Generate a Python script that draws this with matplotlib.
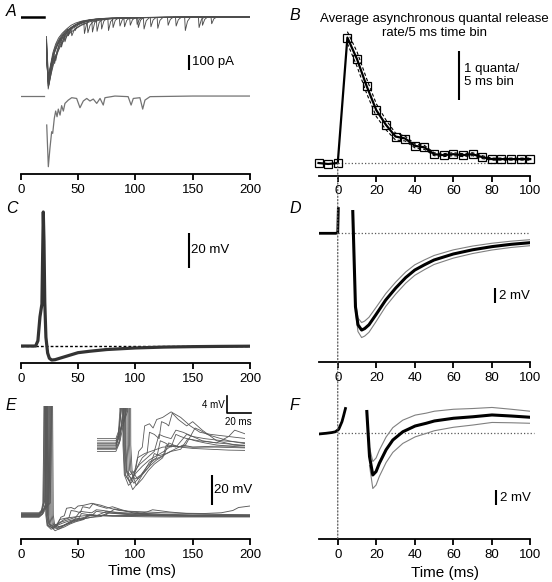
import matplotlib
matplotlib.use("Agg")
import matplotlib.pyplot as plt
from matplotlib.patches import ConnectionPatch

plt.rcParams["font.family"] = ["Liberation Sans", "DejaVu Sans"]

W, H = 552, 582

# ---------------------------------------------------------------------------
# Data
# ---------------------------------------------------------------------------
# A: EPSCs (pA) vs time (ms). Overlaid sweeps (top) + one example sweep (bottom)
A_PRE_T = [0, 20]
A_PRE_I = [0, 0]
A_SWEEPS = [
    [(22.5, -150), (24, -480), (25.5, -380), (27, -330), (29, -260), (29.6, -310), (31.5, -230),
     (34, -170), (37, -130), (40, -100), (44, -70), (48, -50), (52, -32), (55, -26), (55.6, -110),
     (57.5, -45), (60, -22), (65, -15), (75, -8), (86, -5), (86.6, -60), (88.5, -20), (91, -5),
     (110, -3), (140, 0), (200, 0)],
    [(22.5, -250), (24.2, -470), (26, -400), (28, -310), (30, -250), (30.6, -290), (33, -200),
     (36, -150), (39, -120), (42, -90), (46, -60), (50, -45), (54, -30), (60, -20), (66, -15),
     (66.6, -95), (68.5, -35), (71, -18), (80, -8), (107, -5), (107.6, -80), (109.5, -25),
     (112, -5), (130, -2), (200, 0)],
    [(22.5, -180), (23.8, -430), (25.5, -350), (27.5, -280), (30, -220), (33, -170), (35, -140),
     (35.6, -200), (37.5, -140), (40, -105), (42, -90), (46, -65), (50, -45), (55, -30), (60, -20),
     (70, -10), (80, -8), (80.6, -70), (82.5, -22), (85, -8), (100, -5), (119, -3), (119.6, -75),
     (121.5, -22), (124, -3), (150, 0), (200, 0)],
    [(22.5, -300), (24.5, -450), (26.5, -360), (29, -290), (32, -230), (35, -180), (38, -140),
     (41, -110), (44, -88), (44.6, -125), (46.5, -90), (49, -72), (52, -55), (57, -40), (62, -28),
     (70, -15), (76, -10), (76.6, -90), (78.5, -30), (81, -10), (100, -4), (143, -2),
     (143.6, -90), (145.5, -28), (148, -2), (200, 0)],
    [(22.5, -200), (24, -420), (26, -330), (28, -260), (31, -200), (34, -150), (38, -110),
     (42, -80), (47, -55), (52, -40), (58, -25), (62, -20), (62.6, -100), (64.5, -38), (67, -18),
     (75, -10), (95, -5), (95.6, -55), (97.5, -18), (100, -5), (135, -2), (135.6, -60),
     (137.5, -18), (140, -2), (158, 0), (158.6, -55), (160.5, -16), (163, 0), (200, 0)],
    [(22.5, -160), (24.3, -400), (26, -320), (28, -240), (30.5, -180), (33, -140), (36, -110),
     (40, -80), (44, -55), (48, -40), (53, -28), (60, -18), (70, -10), (70.6, -80), (72.5, -28),
     (75, -10), (90, -5), (102, -3), (102.6, -70), (104.5, -22), (107, -3), (155, 0),
     (155.6, -70), (157.5, -20), (160, 0), (200, 0)],
    [(22.5, -220), (24, -460), (25.8, -370), (27.5, -300), (29.5, -240), (32, -190), (35, -150),
     (38, -118), (38.6, -165), (40.5, -120), (43, -95), (46, -72), (51, -48), (56, -32), (62, -22),
     (70, -14), (85, -8), (113, -3), (113.6, -65), (115.5, -20), (118, -3), (140, 0), (200, 0)],
    [(22.5, -130), (24.1, -440), (25.7, -360), (27.5, -290), (29.5, -230), (32, -180), (35, -140),
     (39, -100), (43, -75), (47, -58), (47.6, -90), (49.5, -55), (52, -45), (58, -30), (65, -18),
     (75, -10), (90, -6), (90.6, -65), (92.5, -22), (95, -6), (125, -2), (150, 0), (200, 0)],
    [(22.5, -270), (24.4, -455), (26.2, -390), (28.5, -320), (31, -260), (34, -205), (37, -165),
     (40, -130), (44, -100), (48, -78), (53, -55), (58, -40), (58.6, -105), (60.5, -55), (63, -32),
     (70, -20), (80, -12), (101, -6), (101.6, -50), (103.5, -15), (106, -4), (128, -2),
     (128.6, -55), (130.5, -16), (133, -1), (200, 0)],
    [(22.5, -190), (24, -445), (25.6, -355), (27.3, -285), (29.2, -220), (31.5, -175),
     (34.5, -135), (38, -100), (41, -80), (41.6, -125), (43.5, -80), (46, -62), (50, -45),
     (54, -34), (60, -22), (68, -14), (84, -7), (110, -3), (125, -2), (150, 0), (166, 0),
     (166.6, -45), (168.5, -12), (171, 0), (200, 0)],
]
A_SINGLE_OFFSET = -527
A_SINGLE = [
    (0.3, 0), (20.6, 0), (22.7, -193), (24.1, -471), (25.5, -349), (27, -238), (27.9, -249),
    (29.3, -149), (30.5, -100), (31.7, -138), (32.8, -87), (34.3, -127), (35.7, -64), (37.2, -100),
    (38.6, -49), (41.5, -27), (44.5, -11), (48.8, -16), (51.7, -78), (54.6, -33), (57.6, -16),
    (60.4, -33), (63.3, -20), (66.3, -49), (69.2, -16), (72, -60), (73.5, -11), (82.2, 0),
    (93.7, -4), (96.3, -60), (98.2, -16), (104, -11), (106.4, -87), (108.4, -27), (112.8, -4),
    (150, 0), (200, 0),
]

# B: average asynchronous quantal release rate (quanta / 5 ms bin)
B_T = [-10, -5, 0, 5, 10, 15, 20, 25, 30, 35, 40, 45, 50, 55, 60, 65, 70, 75, 80, 85, 90, 95, 100]
B_RATE = [0.0, -0.02, 0.0, 2.56, 2.12, 1.57, 1.08, 0.78, 0.54, 0.50, 0.35, 0.32, 0.18, 0.16,
          0.18, 0.16, 0.18, 0.12, 0.08, 0.08, 0.08, 0.08, 0.08]
B_SEM = [0, 0, 0, 0.12, 0.15, 0.15, 0.13, 0.10, 0.07, 0.05, 0.04, 0.04, 0.03, 0.03, 0.03,
         0.03, 0.03, 0.03, 0.02, 0.02, 0.02, 0.02, 0.02]

# C: action potential (mV, relative to baseline)
C_T = [0, 13, 15, 16.8, 18.5, 19.2, 19.7, 20.3, 21, 22, 23.5, 25, 27, 30, 35, 40, 50, 60,
       75, 100, 125, 150, 175, 200]
C_V = [0, 0, 3, 16.7, 24, 55, 76.6, 60, 25, 5, -4, -7, -8, -7.8, -6.8, -5.8, -3.8, -3.0,
       -2.0, -1.1, -0.6, -0.35, -0.2, -0.1]

# D: averaged AHP (mean +/- SEM, mV)
D_PRE_T = [-10, -5, -1, 0, 0.3]
D_PRE_V = [0, 0, 0, 0.1, 3.3]
D_T = [7.8, 9.2, 10.5, 12.4, 14, 16.2, 19.7, 24.9, 30.1, 35.3, 40, 45, 50, 60, 70, 80, 90, 100]
D_V = [2.9, -9.8, -12.2, -12.9, -12.7, -12.2, -10.9, -8.9, -7.3, -5.9, -4.9, -4.2, -3.56,
       -2.76, -2.2, -1.78, -1.47, -1.25]
D_SEM = [0, 0.6, 0.9, 1.0, 1.0, 1.0, 0.95, 0.85, 0.8, 0.75, 0.7, 0.65, 0.6, 0.55, 0.5, 0.45,
         0.42, 0.4]

# E: overlaid current-clamp sweeps (mV)
E_SWEEPS = [
    [(0, 0.5), (16, 0.5), (18, 2.5), (19.3, 8), (19.9, 40), (20.5, 95), (21.1, 95), (21.9, 0),
     (23, -7), (26.5, -9.5), (30, -8.5), (33, -5), (35, -1.5), (38, -0.5), (40, 4.5), (44, 5),
     (47, 4), (50, 6), (55, 6.5), (62, 7.8), (70, 6.5), (78, 4.5), (86, 3), (95, 2.5), (110, 2),
     (125, 1.5), (140, 1.2), (160, 1), (175, 1.5), (185, 3), (190, 5), (200, 6)],
    [(0, -0.5), (16, -0.5), (18, 1.5), (19.8, 7), (20.4, 40), (21, 95), (21.6, 95), (22.4, 0),
     (23.5, -7), (27.5, -8.5), (31, -7), (35, -4.5), (38, -3), (42, -2), (44, 3), (48, 2.5),
     (52, 1.5), (54, 5.5), (58, 5), (60, 4.5), (63, 7.5), (68, 6), (75, 4.5), (80, 5.5), (88, 3.5),
     (100, 1), (115, 0), (140, -0.5), (200, -0.5)],
    [(0, 1.5), (16, 1.5), (18.5, 3.5), (20.8, 9), (21.4, 40), (22, 95), (22.6, 95), (23.4, 0),
     (24.5, -6), (28, -7), (32, -6), (36, -4.5), (42, -3), (48, -1.5), (52, 2.5), (56, 2),
     (62, 1.5), (66, 3.5), (72, 3), (80, 2), (90, 1.5), (105, 1), (125, 0.5), (150, 0), (200, 0)],
    [(0, -1.5), (16, -1.5), (19, 0.5), (21.8, 7), (22.4, 40), (23, 95), (23.6, 95), (24.4, 0),
     (25.5, -7), (30, -10.5), (34, -9), (38, -7), (44, -5), (50, -3.5), (56, -2.5), (60, 0.5),
     (64, 0), (70, -0.5), (80, -0.8), (95, -1), (110, -1.2), (130, -1.3), (200, -1.3)],
    [(0, 0), (16, 0), (19, 2), (22.8, 8), (23.4, 40), (24, 95), (24.6, 95), (25.4, 0),
     (26.5, -7), (31, -9), (36, -7.5), (40, -6), (44, -4), (47, -3.5), (50, -3), (53, 1),
     (57, 0.5), (60, 0), (66, -0.5), (75, 2.5), (80, 2), (88, 1), (100, 0.5), (120, 0),
     (150, -0.5), (200, -0.5)],
    [(0, -1), (16, -1), (19.5, 1), (23.8, 7), (24.4, 40), (25, 95), (25.6, 95), (26.4, 0),
     (27.5, -6), (32, -8), (37, -7), (42, -5), (48, -3.5), (55, -2.5), (62, -1.5), (70, -1),
     (76, 1.5), (82, 1), (90, 0.5), (100, 0), (120, -0.5), (150, -0.8), (200, -1)],
    [(0, 1), (16, 1), (19, 3), (24.8, 8), (25.4, 40), (26, 95), (26.6, 95), (27.4, 0),
     (28.5, -6), (33, -9.5), (38, -8), (43, -6), (48, -4.5), (55, -3), (58, 0), (62, -0.5),
     (66, 2.5), (70, 2), (75, 1.5), (85, 1), (100, 0.5), (110, 2), (115, 3.5), (120, 3),
     (130, 2), (145, 1), (170, 0.5), (200, 0)],
    [(0, -0.2), (16, -0.2), (18.2, 2), (20.3, 8), (20.9, 40), (21.5, 95), (22.1, 95), (22.9, 0),
     (24, -7), (28, -9), (31, -7), (34, -3), (37, -2.5), (40, -2), (45, -1.5), (50, -1),
     (55, -0.5), (65, -0.3), (80, -0.5), (100, -0.5), (140, -0.8), (200, -0.8)],
    [(0, 0.3), (16, 0.3), (19, 2.5), (25.8, 8), (26.4, 40), (27, 95), (27.6, 95), (28.4, 0),
     (29.5, -6), (34, -8), (39, -6.5), (44, -5), (48, -2), (52, -2.5), (58, -2), (65, -1),
     (72, 0), (80, -0.5), (95, -0.3), (120, -0.2), (160, 0), (200, 0)],
    [(0, -0.8), (16, -0.8), (18.8, 1), (21.3, 7), (21.9, 40), (22.5, 95), (23.1, 95), (23.9, 0),
     (25, -6.5), (29, -8), (33, -6.5), (38, -5), (44, -3.5), (50, -2.5), (56, -1.5), (63, 0),
     (68, -0.5), (74, 0), (82, 4), (86, 3.5), (92, 2.5), (100, 1.8), (110, 1), (130, 0),
     (160, -0.5), (200, -0.5)],
]

# F: averaged response (mean +/- SEM, mV)
F_PRE_T = [-10, -6, -3, -1.2, 0.5, 2.2, 3, 4]
F_PRE_V = [-0.1, 0.0, 0.1, 0.2, 0.53, 1.55, 2.3, 3.3]
F_T = [15.1, 16.5, 18.2, 19.9, 21.6, 25.1, 28.6, 33.8, 40.2, 45.9, 50.2, 60.1, 70.2, 80.1,
       90.1, 100.2]
F_V = [2.9, -3.1, -5.56, -5.1, -4.0, -2.2, -0.9, 0.2, 0.97, 1.33, 1.64, 2.0, 2.2, 2.44, 2.3, 2.13]
F_SEM = [0, 1.2, 1.8, 1.8, 1.75, 1.7, 1.65, 1.55, 1.45, 1.35, 1.3, 1.2, 1.1, 1.0, 0.9, 0.8]

# ---------------------------------------------------------------------------
# Layout helpers
# ---------------------------------------------------------------------------
fig = plt.figure(figsize=(W / 100, H / 100), dpi=100)
TICK_FS = 9.5
LABEL_FS = 9.5


def px_axes(left, top, right, bottom):
    return fig.add_axes([left / W, 1 - bottom / H, (right - left) / W, (bottom - top) / H])


def style(ax, xlim, ylim, ticks):
    ax.set_xlim(*xlim)
    ax.set_ylim(*ylim)
    for s in ("top", "right", "left"):
        ax.spines[s].set_visible(False)
    ax.spines["bottom"].set_linewidth(1.3)
    ax.set_yticks([])
    ax.set_xticks(ticks)
    ax.tick_params(axis="x", direction="out", length=4, width=1.3, labelsize=TICK_FS, pad=3)
    ax.patch.set_visible(False)


def scalebar(ax, x, y0, y1, label, dx, fs=LABEL_FS):
    ax.plot([x, x], [y0, y1], color="black", lw=1.5, solid_capstyle="butt", clip_on=False)
    ax.text(x + dx, (y0 + y1) / 2, label, fontsize=fs, va="center", ha="left")


def unzip(pts):
    return [p[0] for p in pts], [p[1] for p in pts]


def letter(x, y, s):
    fig.text(x / W, 1 - y / H, s, fontsize=11.5, style="italic", va="center", ha="left")


# ---------------------------------------------------------------------------
# A
# ---------------------------------------------------------------------------
axA = px_axes(20.7, 5, 250, 174)
style(axA, (0, 200), (-1046.7, 80), [0, 50, 100, 150, 200])
for sw in A_SWEEPS:
    t, i = unzip(sw)
    axA.plot(t, i, color="0.3", lw=0.65)
axA.plot(A_PRE_T, A_PRE_I, color="black", lw=1.8)
t, i = unzip(A_SINGLE)
axA.plot(t[:2], [v + A_SINGLE_OFFSET for v in i[:2]], color="0.45", lw=0.9)
axA.plot(t[2:], [v + A_SINGLE_OFFSET for v in i[2:]], color="0.45", lw=0.9)
scalebar(axA, 146.8, -253, -353, "100 pA", 2.5)
letter(6, 12, "A")

# ---------------------------------------------------------------------------
# B
# ---------------------------------------------------------------------------
axB = px_axes(318.5, 30, 530.3, 175.6)
style(axB, (-10, 100), (-0.257, 2.714), [0, 20, 40, 60, 80, 100])
axB.plot([0, 100], [0, 0], color="0.35", lw=0.9, ls=":")
up = [m + s for m, s in zip(B_RATE, B_SEM)]
lo = [m - s for m, s in zip(B_RATE, B_SEM)]
axB.plot(B_T[3:], up[3:], color="black", lw=0.8, ls=(0, (3, 2)))
axB.plot(B_T[3:], lo[3:], color="black", lw=0.8, ls=(0, (3, 2)))
axB.plot(B_T, B_RATE, color="black", lw=1.6, marker="s", ms=6.3, mfc="none", mec="black",
         mew=0.9, clip_on=False)
scalebar(axB, 63.1, 2.286, 1.286, "1 quanta/\n5 ms bin", 2.5)
fig.text(434.5 / W, 1 - 26 / H, "Average asynchronous quantal release\nrate/5 ms time bin",
         fontsize=LABEL_FS, ha="center", va="center", linespacing=1.15)
letter(289, 15, "B")

# ---------------------------------------------------------------------------
# C
# ---------------------------------------------------------------------------
axC = px_axes(20.7, 205, 250, 363)
style(axC, (0, 200), (-9.7, 80.6), [0, 50, 100, 150, 200])
axC.plot([0, 200], [0, 0], color="black", lw=1.0, ls=(0, (2, 1.5)))
axC.plot(C_T, C_V, color="0.2", lw=2.3)
scalebar(axC, 146.8, 44.6, 64.6, "20 mV", 1.5)
letter(6, 208, "C")

# ---------------------------------------------------------------------------
# D
# ---------------------------------------------------------------------------
axD = px_axes(318.5, 200, 530.3, 362)
style(axD, (-10, 100), (-17.16, 4.44), [0, 20, 40, 60, 80, 100])
axD.plot([0, 100], [0, 0], color="0.35", lw=0.9, ls=":")
axD.plot(D_T[1:], [m + s for m, s in zip(D_V[1:], D_SEM[1:])], color="0.5", lw=0.8)
axD.plot(D_T[1:], [m - s for m, s in zip(D_V[1:], D_SEM[1:])], color="0.5", lw=0.8)
axD.plot(D_PRE_T, D_PRE_V, color="black", lw=2)
axD.plot(D_T, D_V, color="black", lw=2.2)
scalebar(axD, 81.8, -7.33, -9.33, "2 mV", 1.8)
letter(289, 208, "D")

# ---------------------------------------------------------------------------
# E (+ inset)
# ---------------------------------------------------------------------------
axE = px_axes(20.7, 406, 250, 539)
style(axE, (0, 200), (-16, 72.7), [0, 50, 100, 150, 200])
for sw in E_SWEEPS:
    t, v = unzip(sw)
    axE.plot(t, v, color="0.35", lw=0.65)
scalebar(axE, 166.6, 6.7, 26.7, "20 mV", 2)
axE.set_xlabel("Time (ms)", fontsize=11)
axE.xaxis.set_label_coords(0.529, -0.19)
letter(6, 405, "E")

axI = px_axes(96.7, 408, 245, 495)
axI.set_xlim(0, 123.6)
axI.set_ylim(-11.76, 8.71)
axI.axis("off")
for sw in E_SWEEPS:
    t, v = unzip(sw)
    axI.plot(t, v, color="0.35", lw=0.6)
axI.plot([108.3, 108.3, 128.3], [11.5, 7.46, 7.46], color="black", lw=1.2, clip_on=False)
axI.text(106.5, 9.5, "4 mV", fontsize=7, ha="right", va="center")
axI.text(118.3, 6.6, "20 ms", fontsize=7, ha="center", va="top")

# ---------------------------------------------------------------------------
# F
# ---------------------------------------------------------------------------
axF = px_axes(318.5, 395, 530.3, 539)
style(axF, (-10, 100), (-14.09, 5.1), [0, 20, 40, 60, 80, 100])
axF.plot([0, 102], [0, 0], color="0.35", lw=0.9, ls=":", clip_on=False)
axF.plot(F_T[1:], [m + s for m, s in zip(F_V[1:], F_SEM[1:])], color="0.5", lw=0.8)
axF.plot(F_T[1:], [m - s for m, s in zip(F_V[1:], F_SEM[1:])], color="0.5", lw=0.8)
axF.plot(F_PRE_T, F_PRE_V, color="black", lw=2)
axF.plot(F_T, F_V, color="black", lw=2.2)
scalebar(axF, 82.3, -7.56, -9.56, "2 mV", 1.8)
axF.set_xlabel("Time (ms)", fontsize=11)
axF.xaxis.set_label_coords(0.597, -0.19)
letter(289, 405, "F")

# vertical dotted line at t = 0 running from B down to F
con = ConnectionPatch(xyA=(0, 0), coordsA=axB.transData, xyB=(0, -14.09), coordsB=axF.transData,
                      color="0.35", lw=0.9, ls=":")
fig.add_artist(con)

fig.savefig("out.png", dpi=100)
